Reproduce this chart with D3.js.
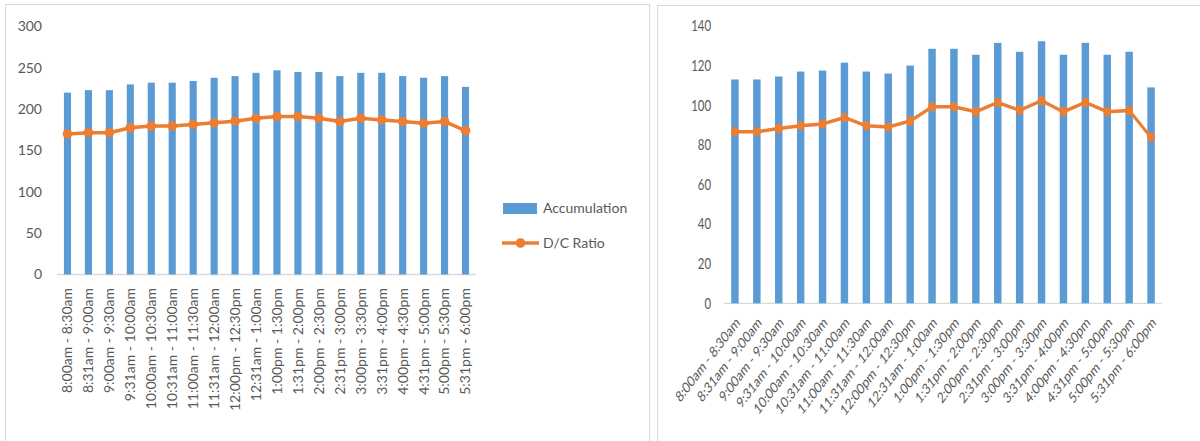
<!DOCTYPE html>
<html><head><meta charset="utf-8">
<script src="https://cdn.jsdelivr.net/npm/d3@7"></script>
<style>
html,body{margin:0;padding:0;background:#fff;}
svg{display:block;}
text{font-family:Lato,"Noto Sans",sans-serif;fill:#595959;}
</style></head>
<body>
<svg id="chart" width="1200" height="441"></svg>
<script>
const categoriesLeft = ["8:00am - 8:30am","8:31am - 9:00am","9:00am - 9:30am","9:31am - 10:00am","10:00am - 10:30am","10:31am - 11:00am","11:00am - 11:30am","11:31am - 12:00am","12:00pm - 12:30pm","12:31am - 1:00am","1:00pm - 1:30pm","1:31pm - 2:00pm","2:00pm - 2:30pm","2:31pm - 3:00pm","3:00pm - 3:30pm","3:31pm - 4:00pm","4:00pm - 4:30pm","4:31pm - 5:00pm","5:00pm - 5:30pm","5:31pm - 6:00pm"];
const categoriesRight = ["8:00am - 8:30am","8:31am - 9:00am","9:00am - 9:30am","9:31am - 10:00am","10:00am - 10:30am","10:31am - 11:00am","11:00am - 11:30am","11:31am - 12:00am","12:00pm - 12:30pm","12:31am - 1:00am","1:00pm - 1:30pm","1:31pm - 2:00pm","2:00pm - 2:30pm","2:31pm - 3:00pm","3:00pm - 3:30pm","3:31pm - 4:00pm","4:00pm - 4:30pm","4:31pm - 5:00pm","5:00pm - 5:30pm","5:31pm - 6:00pm"];
const accumulationLeft = [220,223,223,230,232,232,234,238,240,244,247,245,245,240,244,244,240,238,240,227];
const dcRatioLeft = [170,171.5,171.5,177.5,179.5,179.5,181.5,183.5,185.5,189,191,191,189,185,189,187,185,183,185,174];
const accumulationRight = [113,113,114.5,117,117.5,121.5,117,116,120,128.5,128.5,125.5,131.5,127,132.3,125.5,131.5,125.5,127,109];
const dcRatioRight = [86.6,86.6,88.3,89.6,90.5,93.8,89.6,89,92,99.2,99.2,96.7,101.4,97.4,102.3,96.7,101.4,96.7,97.4,83.7];
const ticksLeft = [0,50,100,150,200,250,300];
const ticksRight = [0,20,40,60,80,100,120,140];
const seriesNames = ["Accumulation","D/C Ratio"];

const BLUE = "#5B9BD5", ORANGE = "#ED7D31", AXIS = "#d9d9d9";
const svg = d3.select("#chart");

// panel frames
svg.append("rect").attr("x",5.5).attr("y",4.5).attr("width",644).attr("height",460)
  .attr("fill","none").attr("stroke",AXIS);
svg.append("rect").attr("x",657.5).attr("y",5.5).attr("width",560).attr("height",460)
  .attr("fill","none").attr("stroke",AXIS);

function drawChart(g, cats, bars, line, ticks, opt){
  const x = d3.scaleBand().domain(cats).range(opt.xr).padding(0);
  const y = d3.scaleLinear().domain([0, d3.max(ticks)]).range(opt.yr);
  const bw = x.bandwidth()*0.34;
  const cx = c => x(c) + x.bandwidth()/2;

  const ya = d3.axisLeft(y).tickValues(ticks).tickSize(0).tickPadding(0);
  const yg = g.append("g").attr("transform",`translate(${opt.yLabelX},0)`).call(ya);
  yg.select(".domain").remove();
  yg.selectAll("text").style("font-family","Lato").style("font-size",opt.fs+"px").attr("fill","#595959");

  g.append("line").attr("x1",opt.xr[0]).attr("x2",opt.xr[1])
    .attr("y1",y(0)).attr("y2",y(0)).attr("stroke",AXIS).attr("stroke-width",1.3);

  g.selectAll(".bar").data(bars).join("rect").attr("class","bar")
    .attr("x",(d,i)=>cx(cats[i])-bw/2).attr("width",bw)
    .attr("y",d=>y(d)).attr("height",d=>y(0)-y(d)).attr("fill",BLUE);

  const lg = d3.line().x((d,i)=>cx(cats[i])).y(d=>y(d));
  g.append("path").datum(line).attr("d",lg).attr("fill","none")
    .attr("stroke",ORANGE).attr("stroke-width",3.5).attr("stroke-linejoin","round");
  g.selectAll(".dot").data(line).join("circle").attr("class","dot")
    .attr("cx",(d,i)=>cx(cats[i])).attr("cy",d=>y(d)).attr("r",opt.r).attr("fill",ORANGE);

  g.selectAll(".xl").data(cats).join("text").attr("class","xl")
    .attr("transform",c=>`translate(${cx(c)},${opt.xLabelY}) rotate(${opt.rot})`)
    .attr("text-anchor","end").attr("dy",opt.dy)
    .style("font-size",opt.fs+"px").text(c=>c);
  return {x,y};
}

// left chart
const gL = svg.append("g");
drawChart(gL, categoriesLeft, accumulationLeft, dcRatioLeft, ticksLeft,
  {xr:[57,476], yr:[274.5,26.5], yLabelX:42, fs:14, r:4.8, xLabelY:288, rot:-90, dy:"0.35em"});

// legend (left chart)
const leg = svg.append("g");
leg.append("rect").attr("x",503).attr("y",203).attr("width",34).attr("height",11).attr("fill",BLUE);
leg.append("text").attr("x",543).attr("y",208.5).attr("dy","0.35em").style("font-size","14px").text(seriesNames[0]);
leg.append("line").attr("x1",502).attr("x2",539).attr("y1",243).attr("y2",243).attr("stroke",ORANGE).attr("stroke-width",3.5);
leg.append("circle").attr("cx",520.5).attr("cy",243).attr("r",4.8).attr("fill",ORANGE);
leg.append("text").attr("x",543).attr("y",243).attr("dy","0.35em").style("font-size","14px").text(seriesNames[1]);

// right chart (horizontally compressed, as in the source)
const SX = 0.76;
const gR = svg.append("g").attr("transform",`scale(${SX},1)`);
drawChart(gR, categoriesRight, accumulationRight, dcRatioRight, ticksRight,
  {xr:[724/SX,1162/SX], yr:[303.3,26], yLabelX:711/SX, fs:15, r:5, xLabelY:316, rot:-45, dy:"0.7em"});
</script>
</body></html>
